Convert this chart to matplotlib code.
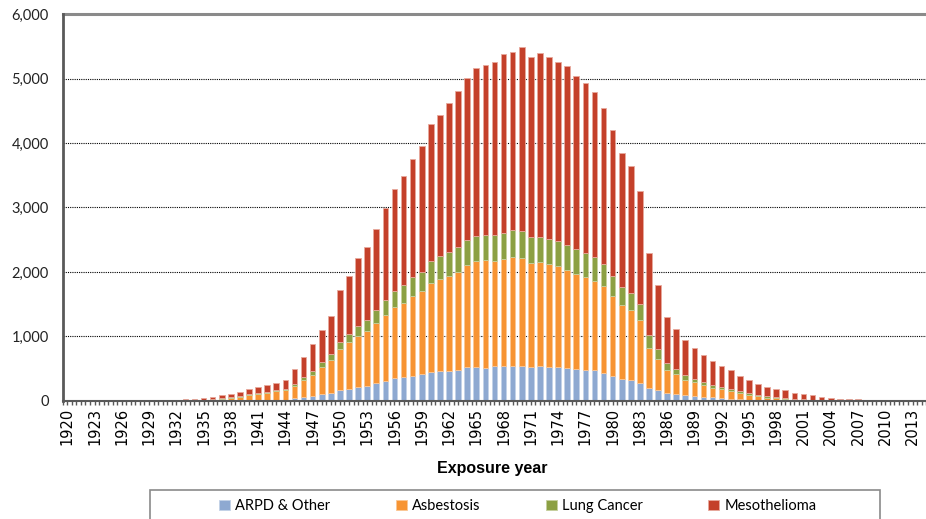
import matplotlib
matplotlib.use('Agg')
import matplotlib.pyplot as plt
import matplotlib.patches as mpatches
from matplotlib.ticker import FuncFormatter
import numpy as np

years = list(range(1920, 2015))

# ARPD & Other
arpd = [0,0,0,0,0,0,0,0,0,0,0,0,0,
        1,2,3,4,4,5,6,5,10,10,16,21,47,57,
        78,109,129,171,192,217,238,274,316,357,378,388,414,450,461,471,487,523,523,518,538,544,549,544,
        523,538,523,523,513,492,487,476,435,388,347,321,285,202,166,124,104,88,78,67,62,47,36,26,21,16,10,5,
        4,3,2,2,1,1,1,0,0,0,0,0,0,0,0,0]
asbestosis = [0,0,0,0,1,1,1,1,1,1,1,2,2,
              5,8,12,17,32,47,56,88,93,114,134,144,180,274,
              331,424,508,631,719,798,854,937,1020,1098,1144,1238,1284,1377,1423,1460,1511,1579,1641,1672,1636,1651,1677,1677,
              1610,1610,1594,1563,1522,1475,1428,1377,1341,1243,1144,1087,968,621,491,357,310,243,217,176,145,134,114,98,77,56,42,36,
              27,18,14,10,8,6,4,3,2,2,1,1,0,0,0,0]
lung = [0,0,0,0,0,0,0,0,0,0,0,1,1,
        2,2,3,4,6,8,10,16,16,21,26,25,31,47,
        62,78,93,119,135,155,166,202,222,248,269,289,300,347,368,383,389,388,399,388,394,404,419,414,
        404,399,394,389,383,383,373,373,352,310,280,264,243,207,151,104,83,73,52,52,47,36,31,31,21,16,20,16,
        10,10,10,6,5,4,3,3,2,2,1,1,1,0,0,0]
meso = [3,3,3,3,3,4,4,4,5,5,6,7,9,
        18,24,29,42,51,54,73,77,93,98,103,141,233,311,
        414,497,595,793,895,1041,1134,1253,1434,1590,1703,1838,1952,2118,2180,2299,2417,2511,2598,2630,2692,2780,2760,2847,
        2790,2853,2816,2780,2780,2692,2646,2568,2407,2263,2081,1973,1760,1263,994,720,616,543,481,419,367,327,295,233,207,171,151,129,
        125,98,78,70,53,41,28,25,22,17,14,8,5,4,2,1]

series = [('ARPD & Other', arpd, '#8EA9D1', '#C3D2E8'),
          ('Asbestosis', asbestosis, '#F79433', '#FBC795'),
          ('Lung Cancer', lung, '#8CA043', '#C5D09E'),
          ('Mesothelioma', meso, '#C4402A', '#E8A99D')]

fig = plt.figure(figsize=(9.26, 5.19), dpi=100)
ax = fig.add_axes([0.0677, 0.2274, 0.9325, 0.7456])

x = np.arange(len(years))
bottom = np.zeros(len(years))
handles = []
for name, vals, col, edge in series:
    vals = np.array(vals, dtype=float)
    b = ax.bar(x, vals, 0.62, bottom=bottom, color=col, edgecolor=edge, linewidth=0.6, label=name, zorder=3)
    bottom = bottom + vals
    handles.append(b)

ax.set_xlim(-0.5, len(years) - 0.5)
ax.set_ylim(0, 6000)

yt = [0, 1000, 2000, 3000, 4000, 5000, 6000]
ax.set_yticks(yt)
ax.yaxis.set_major_formatter(FuncFormatter(lambda v, p: '{:,.0f}'.format(v)))
for v in yt[1:-1]:
    ax.axhline(v, color='black', lw=0.8, ls=(0, (1, 1)), zorder=1)
ax.axhline(6000, color='#8a8a8a', lw=2.2, zorder=2, clip_on=False)

ax.tick_params(axis='y', length=0, pad=10, labelsize=10.5)
for t in ax.get_yticklabels():
    t.set_fontfamily('Lato')
    t.set_color('#222222')

lab_idx = [i for i, y in enumerate(years) if (y - 1920) % 3 == 0]
ax.set_xticks(lab_idx)
ax.set_xticklabels([str(years[i]) for i in lab_idx], rotation=90, fontsize=10.5, family='DejaVu Sans')
ax.set_xticks(np.arange(-0.5, len(years), 0.5), minor=True)
ax.tick_params(axis='x', which='both', length=3, width=1, color='#595959', pad=2)

for s in ['top', 'right']:
    ax.spines[s].set_visible(False)
ax.spines['left'].set_color('#595959')
ax.spines['left'].set_linewidth(2)
ax.spines['bottom'].set_color('#595959')
ax.spines['bottom'].set_linewidth(1.5)
ax.spines['bottom'].set_zorder(4)

fig.text(492 / 926, 1 - 469 / 519, 'Exposure year', ha='center', va='center',
         fontsize=11.5, fontweight='bold', family=['Liberation Sans Narrow', 'Liberation Sans'])

leg = fig.legend(handles=handles, loc='center', bbox_to_anchor=(0.559, 1 - 506 / 519), ncol=4,
                 frameon=False, handlelength=0.75, handleheight=0.75, handletextpad=0.35,
                 columnspacing=4.5, prop={'family': 'Lato', 'size': 10.5})

fig.patches.append(mpatches.Rectangle((150 / 926, -0.05), 730 / 926, (519 - 490) / 519 + 0.05,
                                      transform=fig.transFigure, fill=False, edgecolor='#8a8a8a', lw=1.2))

fig.savefig('out.png', dpi=100)
